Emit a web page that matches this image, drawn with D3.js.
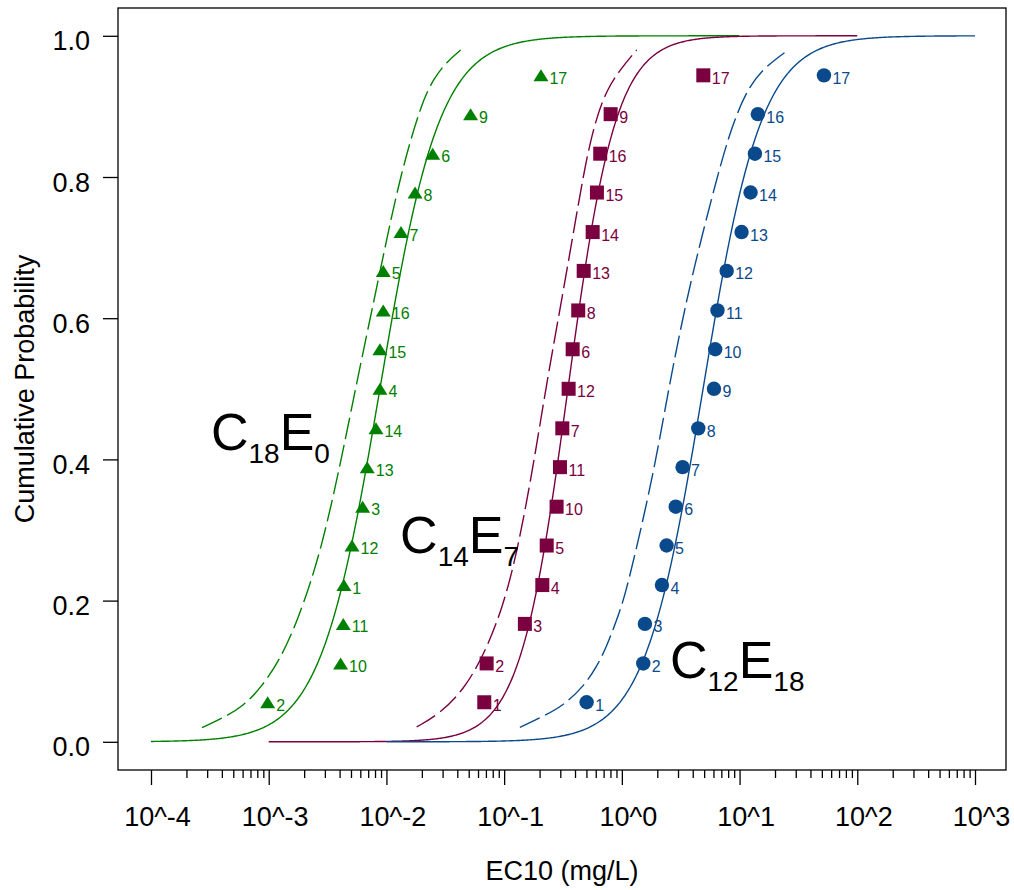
<!DOCTYPE html>
<html>
<head>
<meta charset="utf-8">
<script src="https://cdn.jsdelivr.net/npm/d3@7"></script>
<style>
  body { margin: 0; background: #fff; }
  svg { display: block; }
  text { font-family: "Liberation Sans", Arial, Helvetica, sans-serif; }
</style>
</head>
<body>
<svg id="chart" width="1014" height="890"></svg>
<script>
// ---------------- data ----------------
const cumulativeProbability = [0.056, 0.111, 0.167, 0.222, 0.278, 0.333, 0.389, 0.444, 0.5,
                               0.556, 0.611, 0.667, 0.722, 0.778, 0.833, 0.889, 0.944];

const seriesNames = ["C18E0", "C14E7", "C12E18"];

const c18e0Labels = [2, 10, 11, 1, 12, 3, 13, 14, 4, 15, 16, 5, 7, 8, 6, 9, 17];
const c18e0EC10   = [0.00098, 0.00408, 0.0043, 0.00435, 0.0051, 0.00628, 0.00687, 0.00815, 0.00881,
                     0.0088, 0.0094, 0.0094, 0.0133, 0.0175, 0.0247, 0.0519, 0.2055];

const c14e7Labels = [1, 2, 3, 4, 5, 10, 11, 7, 12, 6, 8, 13, 14, 15, 16, 9, 17];
const c14e7EC10   = [0.0678, 0.071, 0.150, 0.211, 0.230, 0.279, 0.298, 0.312, 0.353,
                     0.382, 0.426, 0.474, 0.565, 0.614, 0.655, 0.803, 4.92];

const c12e18Labels = [1, 2, 3, 4, 5, 6, 7, 8, 9, 10, 11, 12, 13, 14, 15, 16, 17];
const c12e18EC10   = [0.502, 1.52, 1.57, 2.19, 2.40, 2.87, 3.28, 4.46, 6.06,
                      6.21, 6.49, 7.77, 10.4, 12.4, 13.5, 14.3, 52.1];

// fitted log-logistic distributions (log10 location, scale) and plotted range
const fitLocation = [-2.055, -0.458, 0.69];
const fitScale    = [0.255, 0.205, 0.25];
const fitRange    = [[1e-4, 1e1], [1e-3, 1e2], [1e-2, 1e3]];

// lower confidence (dashed) curves: [EC10, cumulative probability]
const c18e0Lower = [[0.000271, 0.020], [0.000401, 0.033], [0.000617, 0.051], [0.000871, 0.078],
                    [0.001245, 0.116], [0.001782, 0.173], [0.002818, 0.272], [0.004295, 0.413],
                    [0.005585, 0.508], [0.006855, 0.579], [0.009638, 0.697], [0.01303, 0.800],
                    [0.01991, 0.907], [0.02582, 0.942], [0.03251, 0.963], [0.04276, 0.980]];
const c14e7Lower = [[0.01807, 0.021], [0.02851, 0.040], [0.04498, 0.073], [0.06653, 0.121],
                    [0.09817, 0.191], [0.1318, 0.276], [0.1766, 0.390], [0.2296, 0.508],
                    [0.3083, 0.626], [0.3999, 0.734], [0.5023, 0.829], [0.6109, 0.885],
                    [0.7430, 0.923], [0.9638, 0.952], [1.337, 0.980]];
const c12e18Lower = [[0.1361, 0.0205], [0.2084, 0.035], [0.3177, 0.051], [0.4699, 0.078],
                     [0.6109, 0.106], [0.7430, 0.135], [0.9036, 0.1725], [1.06, 0.2055],
                     [1.426, 0.295], [1.90, 0.39], [2.404, 0.484], [2.967, 0.564], [3.980, 0.664],
                     [6.553, 0.805], [8.570, 0.871], [11.48, 0.923], [15.89, 0.954], [25.94, 0.980]];

const xTickValues = [1e-4, 1e-3, 1e-2, 1e-1, 1e0, 1e1, 1e2, 1e3];
const xTickLabels = ["10^-4", "10^-3", "10^-2", "10^-1", "10^0", "10^1", "10^2", "10^3"];
const yTickValues = [0, 0.2, 0.4, 0.6, 0.8, 1.0];
const yTickLabels = ["0.0", "0.2", "0.4", "0.6", "0.8", "1.0"];

const xTitle = "EC10 (mg/L)";
const yTitle = "Cumulative Probability";

// ---------------- styling ----------------
const colors = ["#008000", "#7a0040", "#0a4a8c"];
const shapes = ["triangle", "square", "circle"];
const annotations = [
  { main1: "C", sub1: "18", main2: "E", sub2: "0",  ex: 0.000323, ey: 0.413 },
  { main1: "C", sub1: "14", main2: "E", sub2: "7",  ex: 0.01306,  ey: 0.2674 },
  { main1: "C", sub1: "12", main2: "E", sub2: "18", ex: 2.56,     ey: 0.0904 }
];

const svg = d3.select("#chart");
const box = { left: 118, top: 8, right: 1006, bottom: 770 };

const x = d3.scaleLog().domain([1e-4, 1e3]).range([151, 975]);
const y = d3.scaleLinear().domain([0, 1]).range([741.8, 35.8]);

const logistic = (v, i) => 1 / (1 + Math.exp(-(Math.log10(v) - fitLocation[i]) / fitScale[i]));

const seriesEC10 = [c18e0EC10, c14e7EC10, c12e18EC10];
const seriesLabels = [c18e0Labels, c14e7Labels, c12e18Labels];
const seriesLower = [c18e0Lower, c14e7Lower, c12e18Lower];

// ---------------- box ----------------
svg.append("rect")
  .attr("x", box.left).attr("y", box.top)
  .attr("width", box.right - box.left).attr("height", box.bottom - box.top)
  .attr("fill", "none").attr("stroke", "#000").attr("stroke-width", 1.3);

// ---------------- axes ----------------
const minorTicks = x.ticks().filter(v => xTickValues.every(t => Math.abs(Math.log10(v) - Math.log10(t)) > 1e-6));

const gMinor = svg.append("g").attr("transform", `translate(0,${box.bottom})`)
  .call(d3.axisBottom(x).tickValues(minorTicks).tickSize(8).tickFormat(""));
gMinor.select(".domain").remove();

const gMajor = svg.append("g").attr("transform", `translate(0,${box.bottom})`)
  .call(d3.axisBottom(x).tickValues(xTickValues).tickSize(15)
        .tickFormat((d, i) => xTickLabels[i]));
gMajor.select(".domain").remove();
gMajor.selectAll("text").attr("y", 56).attr("dy", null).attr("dx", 6)
  .attr("font-size", 27).attr("font-family", "Liberation Sans, Arial, sans-serif").attr("fill", "#000");

const gY = svg.append("g").attr("transform", `translate(${box.left},0)`)
  .call(d3.axisLeft(y).tickValues(yTickValues).tickSize(15)
        .tickFormat((d, i) => yTickLabels[i]));
gY.select(".domain").remove();
gY.selectAll("text").attr("x", -28).attr("dy", null).attr("y", 14)
  .attr("font-size", 27).attr("font-family", "Liberation Sans, Arial, sans-serif").attr("fill", "#000");

svg.selectAll(".tick line").attr("stroke", "#000").attr("stroke-width", 1.3);

svg.append("text")
  .attr("x", (box.left + box.right) / 2).attr("y", 880)
  .attr("text-anchor", "middle").attr("font-size", 27).text(xTitle);

svg.append("text")
  .attr("transform", `translate(34,${(box.top + box.bottom) / 2}) rotate(-90)`)
  .attr("text-anchor", "middle").attr("font-size", 27).text(yTitle);

// ---------------- curves ----------------
const line = d3.line().x(d => x(d[0])).y(d => y(d[1]));
const dashLine = d3.line().x(d => x(d[0])).y(d => y(d[1])).curve(d3.curveBasis);

seriesNames.forEach((name, i) => {
  const lo = Math.log10(fitRange[i][0]), hi = Math.log10(fitRange[i][1]);
  const pts = d3.range(lo, hi + 1e-9, 0.01).map(l => {
    const v = Math.pow(10, l);
    return [v, logistic(v, i)];
  });
  svg.append("path").datum(pts).attr("d", line)
    .attr("fill", "none").attr("stroke", colors[i]).attr("stroke-width", 1.4);

  svg.append("path").datum(seriesLower[i]).attr("d", dashLine)
    .attr("fill", "none").attr("stroke", colors[i]).attr("stroke-width", 1.4)
    .attr("stroke-dasharray", "22,6");
});

// ---------------- points ----------------
seriesNames.forEach((name, i) => {
  const data = seriesEC10[i].map((v, k) => ({ v, p: cumulativeProbability[k], lab: seriesLabels[i][k] }));
  const g = svg.append("g").attr("fill", colors[i]);
  data.forEach(d => {
    const cx = x(d.v), cy = y(d.p);
    if (shapes[i] === "triangle") {
      g.append("path").attr("d", `M${cx - 7.5},${cy + 6}L${cx + 7.5},${cy + 6}L${cx},${cy - 6}Z`);
    } else if (shapes[i] === "square") {
      g.append("rect").attr("x", cx - 7).attr("y", cy - 7).attr("width", 14).attr("height", 14);
    } else {
      g.append("circle").attr("cx", cx).attr("cy", cy).attr("r", 7.2);
    }
    g.append("text").attr("x", cx + 8.5).attr("y", cy + 8.5).attr("font-size", 16).text(d.lab);
  });
});

// ---------------- annotations ----------------
annotations.forEach(a => {
  const t = svg.append("text").attr("x", x(a.ex)).attr("y", y(a.ey)).attr("font-size", 52).attr("fill", "#000");
  t.append("tspan").text(a.main1);
  t.append("tspan").attr("font-size", 28).attr("dy", 13).text(a.sub1);
  t.append("tspan").attr("dy", -13).text(a.main2);
  t.append("tspan").attr("font-size", 28).attr("dy", 13).text(a.sub2);
});
</script>
</body>
</html>
